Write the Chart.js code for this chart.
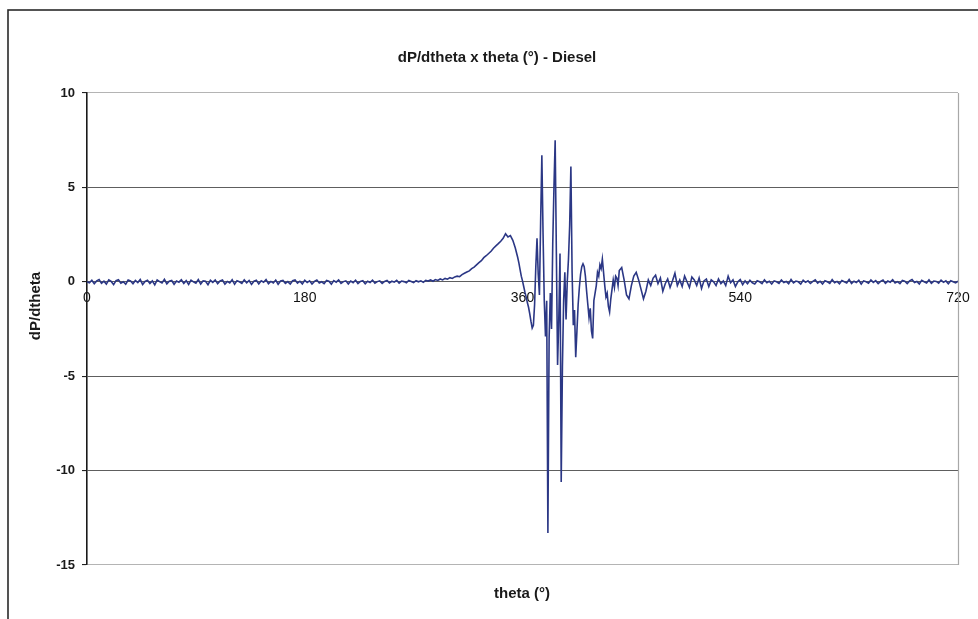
<!DOCTYPE html>
<html>
<head>
<meta charset="utf-8">
<title>dP/dtheta x theta - Diesel</title>
<script src="https://cdn.jsdelivr.net/npm/chart.js@4/dist/chart.umd.min.js"></script>
<style>
  html, body { margin: 0; padding: 0; background: #ffffff; }
  #wrap { position: relative; width: 978px; height: 619px; }
</style>
</head>
<body>
<div id="wrap"><canvas id="chart"></canvas></div>
<script>
// Crank angle (degrees) and pressure derivative for the diesel cycle
const thetaDeg = [
  0,2,4,6,8,10,12,14,16,18,20,22,24,26,28,30,32,34,36,38,40,42,44,46,48,50,52,54,56,58,
  60,62,64,66,68,70,72,74,76,78,80,82,84,86,88,90,92,94,96,98,100,102,104,106,108,110,112,114,116,118,
  120,122,124,126,128,130,132,134,136,138,140,142,144,146,148,150,152,154,156,158,160,162,164,166,168,170,172,174,176,178,
  180,182,184,186,188,190,192,194,196,198,200,202,204,206,208,210,212,214,216,218,220,222,224,226,228,230,232,234,236,238,
  240,242,244,246,248,250,252,254,256,258,260,262,264,266,268,270,272,274,276,278,280,282,284,286,288,290,292,294,296,298,
  300,302,304,306,308,310,312,314,316,318,320,322,324,326,328,330,332,334,336,338,340,342,344,346,348,350,352,354,356,
  357,358,359,360,361,362,363,364,365,366,367,368,369,370,371,372,373,374,375,376,377,378,379,380,
  381,382,383,384,385,386,387,388,389,390,391,392,393,394,395,396,397,398,399,400,
  401,402,403,404,405,406,407,408,409,410,411,412,413,414,415,416,417,418,419,420,
  421,422,423,424,425,426,427,428,429,430,431,432,433,434,435,436,437,438,439,440,
  442,444,446,448,450,452,454,456,458,460,462,464,466,468,470,472,474,476,478,480,
  482,484,486,488,490,492,494,496,498,500,502,504,506,508,510,512,514,516,518,520,
  522,524,526,528,530,532,534,536,538,540,542,544,546,548,550,552,554,556,558,560,
  562,564,566,568,570,572,574,576,578,580,582,584,586,588,590,592,594,596,598,600,
  602,604,606,608,610,612,614,616,618,620,622,624,626,628,630,632,634,636,638,640,
  642,644,646,648,650,652,654,656,658,660,662,664,666,668,670,672,674,676,678,680,
  682,684,686,688,690,692,694,696,698,700,702,704,706,708,710,712,714,716,718,720
];

const dPdTheta = [
  // 0 - 58
  0.00,-0.05,0.08,-0.10,0.05,0.12,-0.08,0.03,-0.12,0.10,0.02,-0.15,0.06,0.11,-0.07,0.00,-0.13,0.09,0.04,-0.10,
  0.07,-0.04,0.12,-0.14,0.02,0.08,-0.09,0.05,-0.16,0.10,
  // 60 - 118
  0.01,-0.06,0.13,-0.11,0.03,0.07,-0.13,0.04,-0.02,0.11,-0.09,0.06,-0.14,0.09,0.00,-0.07,0.12,-0.12,0.05,0.03,
  -0.15,0.08,-0.03,0.10,-0.10,0.04,0.09,-0.12,0.02,-0.06,
  // 120 - 178
  0.11,-0.13,0.06,0.00,-0.09,0.10,-0.05,0.07,-0.14,0.03,0.08,-0.11,0.05,-0.02,0.12,-0.10,0.02,-0.06,0.09,-0.13,
  0.04,0.07,-0.08,0.01,-0.12,0.06,0.10,-0.07,0.03,-0.11,
  // 180 - 238
  0.08,-0.04,0.05,-0.12,0.02,0.09,-0.06,0.00,-0.10,0.07,0.03,-0.13,0.06,-0.02,0.10,-0.08,0.01,0.05,-0.11,0.04,
  -0.05,0.08,-0.09,0.02,0.06,-0.10,0.03,-0.04,0.09,-0.07,
  // 240 - 298
  0.01,0.05,-0.08,0.02,0.07,-0.06,0.03,-0.02,0.08,-0.07,0.04,0.01,-0.05,0.07,0.02,-0.04,0.06,0.00,0.05,-0.03,
  0.08,0.04,0.10,0.03,0.12,0.07,0.15,0.10,0.18,0.14,
  // 300 - 356
  0.22,0.18,0.26,0.30,0.27,0.38,0.45,0.52,0.58,0.70,0.78,0.90,1.02,1.12,1.28,1.38,1.50,1.62,1.78,1.90,
  2.02,2.15,2.30,2.55,2.38,2.45,2.20,1.80,1.30,
  // 357 - 380
  1.00,0.65,0.30,0.05,-0.25,-0.55,-0.80,-1.10,-1.35,-1.70,-2.10,-2.45,-2.30,-1.20,0.80,2.30,0.40,-0.70,3.20,6.70,
  2.50,-1.00,-2.90,-1.00,
  // 381 - 400
  -13.30,-3.00,-0.60,-2.50,2.00,5.00,7.50,1.50,-4.40,-2.00,1.50,-10.60,-4.50,-1.00,0.50,-2.00,0.00,1.20,3.00,6.10,
  // 401 - 420
  0.50,-2.30,-1.50,-4.00,-2.60,-1.20,-0.30,0.40,0.80,0.95,0.80,0.30,-0.50,-1.20,-1.90,-1.40,-2.60,-3.00,-1.00,-0.60,
  // 421 - 440
  -0.20,0.50,0.30,0.90,0.70,1.20,0.50,-0.20,-0.80,-0.60,-1.30,-1.60,-0.90,-0.40,0.10,-0.30,0.30,0.20,-0.20,0.60,
  // 442 - 480
  0.75,0.10,-0.70,-0.90,-0.20,0.30,0.50,0.10,-0.40,-0.90,-0.50,0.10,-0.20,0.20,0.35,-0.10,0.20,-0.50,-0.10,0.15,
  // 482 - 520
  -0.30,0.05,0.45,-0.20,0.10,-0.25,0.30,0.00,-0.30,0.25,0.10,-0.20,0.20,-0.35,0.05,0.15,-0.25,0.10,0.00,-0.20,
  // 522 - 560
  0.15,-0.10,0.05,-0.20,0.30,-0.05,0.10,-0.25,0.00,0.12,-0.15,0.05,-0.10,0.08,-0.05,-0.12,0.06,0.00,-0.10,0.10,
  // 562 - 600
  -0.05,0.03,-0.12,0.05,0.00,-0.08,0.10,-0.04,0.02,-0.10,0.12,-0.06,0.04,0.00,-0.12,0.08,-0.03,0.05,-0.09,0.02,
  // 602 - 640
  0.10,-0.07,0.03,-0.11,0.06,0.00,-0.08,0.11,-0.05,0.02,-0.10,0.07,0.00,-0.06,0.12,-0.09,0.03,-0.04,0.08,-0.12,
  // 642 - 680
  0.05,0.00,-0.07,0.10,-0.03,0.06,-0.10,0.02,0.09,-0.08,0.04,-0.02,0.11,-0.06,0.01,-0.10,0.07,0.03,-0.09,0.05,
  // 682 - 720
  0.12,-0.04,0.02,-0.11,0.08,0.00,-0.06,0.10,-0.08,0.04,0.02,-0.07,0.09,-0.03,0.05,-0.10,0.06,0.00,-0.05,0.03
];

const xTickValues = [0, 180, 360, 540, 720];
const yTickValues = [10, 5, 0, -5, -10, -15];

const chartTitle = 'dP/dtheta x theta (°) - Diesel';
const xTitle = 'theta (°)';
const yTitle = 'dP/dtheta';

const points = thetaDeg.map((t, i) => ({ x: t, y: dPdTheta[i] }));

// Frame, plot outline and titles drawn on the canvas
const decorations = {
  id: 'decorations',
  beforeDraw(chart) {
    const ctx = chart.ctx;
    ctx.save();
    ctx.fillStyle = '#ffffff';
    ctx.fillRect(0, 0, chart.width, chart.height);
    ctx.restore();
  },
  afterDraw(chart) {
    const { ctx, chartArea } = chart;
    ctx.save();
    // outer frame
    ctx.strokeStyle = '#2a2a2a';
    ctx.lineWidth = 1.6;
    ctx.strokeRect(8, 10, 1000, 700);
    // plot area right edge
    ctx.strokeStyle = '#a8a8a8';
    ctx.lineWidth = 1.2;
    ctx.beginPath();
    ctx.moveTo(chartArea.right + 0.5, chartArea.top);
    ctx.lineTo(chartArea.right + 0.5, chartArea.bottom);
    ctx.stroke();
    // titles
    ctx.fillStyle = '#1a1a1a';
    ctx.textAlign = 'center';
    ctx.textBaseline = 'middle';
    ctx.font = 'bold 15px "Liberation Sans", Arial, sans-serif';
    ctx.fillText(chartTitle, 497, 58);
    ctx.fillText(xTitle, 522, 594);
    ctx.translate(36, 306);
    ctx.rotate(-Math.PI / 2);
    ctx.fillText(yTitle, 0, 0);
    ctx.restore();
  }
};

new Chart(document.getElementById('chart'), {
  type: 'line',
  data: {
    datasets: [{
      label: 'dP/dtheta',
      data: points,
      borderColor: '#2b3785',
      borderWidth: 1.6,
      pointRadius: 0,
      tension: 0,
      fill: false
    }]
  },
  options: {
    responsive: true,
    maintainAspectRatio: false,
    animation: false,
    layout: { padding: { left: 8, top: 93, right: 20, bottom: 54 } },
    plugins: {
      legend: { display: false },
      title: { display: false },
      tooltip: { enabled: false }
    },
    scales: {
      x: {
        type: 'linear',
        position: { y: 0 },
        min: 0,
        max: 720,
        afterFit(scale) { scale.height = 0; },
        afterBuildTicks(scale) { scale.ticks = xTickValues.map(v => ({ value: v })); },
        grid: { display: false, drawTicks: false },
        border: { display: false },
        ticks: {
          padding: 8,
          color: '#111111',
          font: { family: '"Liberation Sans", Arial, sans-serif', size: 14 },
          maxRotation: 0,
          autoSkip: false
        }
      },
      y: {
        type: 'linear',
        position: 'left',
        min: -15,
        max: 10,
        afterFit(scale) { scale.width = 79; },
        afterBuildTicks(scale) { scale.ticks = yTickValues.map(v => ({ value: v })); },
        grid: {
          color: ctx => (ctx.tick && (ctx.tick.value === 10 || ctx.tick.value === -15)) ? '#b4b4b4' : '#5e5e5e',
          lineWidth: 1.1,
          tickLength: 5,
          tickColor: '#222222'
        },
        border: { display: true, color: '#1a1a1a', width: 1.6 },
        ticks: {
          padding: 7,
          color: '#1a1a1a',
          font: { family: '"Liberation Sans", Arial, sans-serif', size: 13, weight: 'bold' }
        }
      }
    }
  },
  plugins: [decorations]
});
</script>
</body>
</html>
